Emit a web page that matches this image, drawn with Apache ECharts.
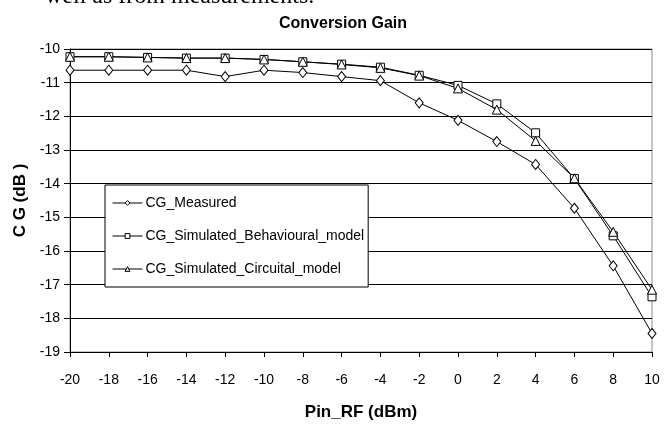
<!DOCTYPE html>
<html>
<head>
<meta charset="utf-8">
<script src="https://cdn.jsdelivr.net/npm/echarts@6/dist/echarts.min.js"></script>
<style>
  html, body { margin: 0; padding: 0; background: #fff; }
  #chart { width: 671px; height: 426px; }
</style>
</head>
<body>
<div id="chart"></div>
<script>
// Input RF power sweep (dBm)
const pinRF = [-20, -18, -16, -14, -12, -10, -8, -6, -4, -2, 0, 2, 4, 6, 8, 10];

// Conversion gain (dB)
const cgMeasured = [-10.63, -10.63, -10.63, -10.63, -10.82, -10.63, -10.7, -10.82,
                    -10.94, -11.6, -12.12, -12.75, -13.43, -14.73, -16.44, -18.45];
const cgBehavioural = [-10.23, -10.23, -10.25, -10.27, -10.27, -10.31, -10.38, -10.45,
                       -10.54, -10.78, -11.08, -11.63, -12.49, -13.85, -15.55, -17.36];
const cgCircuital = [-10.23, -10.23, -10.25, -10.27, -10.27, -10.31, -10.38, -10.46,
                     -10.56, -10.79, -11.17, -11.8, -12.73, -13.84, -15.43, -17.15];

const seriesNames = ['CG_Measured', 'CG_Simulated_Behavioural_model', 'CG_Simulated_Circuital_model'];
const xTicks = { min: -20, max: 10, step: 2 };
const yTicks = { min: -19, max: -10, step: 1 };

const pairs = (ys) => pinRF.map((x, i) => [x, ys[i]]);
const FONT = 'Liberation Sans, Arial, sans-serif';

function lineSeries(name, data, symbol, size) {
  return {
    name: name,
    type: 'line',
    data: pairs(data),
    symbol: symbol,
    symbolSize: size,
    showAllSymbol: true,
    lineStyle: { color: '#000', width: 1 },
    itemStyle: { color: '#fff', borderColor: '#000', borderWidth: 1 },
    emphasis: { disabled: true },
    animation: false,
    z: 3
  };
}

const chart = echarts.init(document.getElementById('chart'), null, { renderer: 'canvas' });
chart.setOption({
  backgroundColor: '#fff',
  animation: false,
  title: {
    text: 'Conversion Gain',
    left: 338, top: 11,
    textAlign: 'center',
    textStyle: { fontFamily: FONT, fontWeight: 'bold', fontSize: 16, color: '#000' }
  },
  graphic: [{
    type: 'text',
    left: 45, top: -15,
    style: { text: 'well as from measurements.', font: '24px "Liberation Serif", "Times New Roman", serif', fill: '#000' }
  }],
  grid: {
    left: 70, right: 19, top: 49, bottom: 72,
    show: true, borderColor: '#8a8a8a', borderWidth: 1, backgroundColor: 'transparent'
  },
  legend: {
    orient: 'vertical',
    left: 105, top: 185,
    padding: [11, 4, 11, 7],
    itemGap: 19,
    itemWidth: 30, itemHeight: 6,
    backgroundColor: '#fff',
    borderColor: '#000', borderWidth: 1,
    itemStyle: { color: '#fff', borderColor: '#000', borderWidth: 1 },
    lineStyle: { color: '#000', width: 1 },
    textStyle: { fontFamily: FONT, fontSize: 14, color: '#000', padding: [0, 0, 0, -2] },
    data: seriesNames
  },
  xAxis: {
    type: 'value',
    min: xTicks.min, max: xTicks.max, interval: xTicks.step,
    name: 'Pin_RF (dBm)', nameLocation: 'middle', nameGap: 52,
    nameTextStyle: { fontFamily: FONT, fontWeight: 'bold', fontSize: 17, color: '#000' },
    axisLine: { onZero: false, lineStyle: { color: '#000', width: 1 } },
    axisTick: { show: true, inside: false, length: 5, lineStyle: { color: '#000' } },
    axisLabel: { margin: 21, fontFamily: FONT, fontSize: 14, color: '#000' },
    splitLine: { show: false }
  },
  yAxis: {
    type: 'value',
    min: yTicks.min, max: yTicks.max, interval: yTicks.step,
    name: 'C G (dB )', nameLocation: 'middle', nameGap: 37, nameRotate: 90,
    nameTextStyle: { fontFamily: FONT, fontWeight: 'bold', fontSize: 17, color: '#000' },
    axisLine: { onZero: false, lineStyle: { color: '#000', width: 1 } },
    axisTick: { show: true, inside: false, length: 6, lineStyle: { color: '#000' } },
    axisLabel: { margin: 10, fontFamily: FONT, fontSize: 14, color: '#000' },
    splitLine: { show: true, lineStyle: { color: '#000', width: 1 } }
  },
  series: [
    lineSeries(seriesNames[0], cgMeasured, 'diamond', [8, 10]),
    lineSeries(seriesNames[1], cgBehavioural, 'rect', 8),
    lineSeries(seriesNames[2], cgCircuital, 'triangle', 9)
  ]
});
</script>
</body>
</html>
